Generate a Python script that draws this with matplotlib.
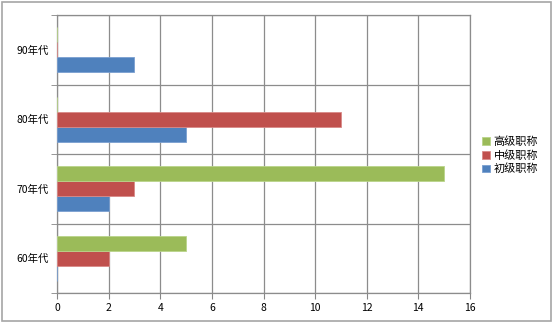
import matplotlib
matplotlib.use("Agg")
import matplotlib.pyplot as plt
from matplotlib.patches import Rectangle
import numpy as np

plt.rcParams['font.family'] = ['Noto Sans CJK SC', 'DejaVu Sans']

categories = ['60年代', '70年代', '80年代', '90年代']
series_names = ['初级职称', '中级职称', '高级职称']
chuji = [0, 2, 5, 3]
zhongji = [2, 3, 11, 0]
gaoji = [5, 15, 0, 0]
colors = ['#4F81BD', '#C0504D', '#9BBB59']
edges = ['#7A9FD0', '#D98A88', '#B9D48A']
xticks = [0, 2, 4, 6, 8, 10, 12, 14, 16]

fig = plt.figure(figsize=(5.54, 3.23), dpi=100)
fig.patches.append(Rectangle((2/554, 2/323), 549/554, 319/323, transform=fig.transFigure,
                             fill=False, edgecolor='#A6A6A6', linewidth=1.2))
ax = fig.add_axes([57/554, 1 - 293/323, 413/554, 278/323])

y = np.arange(len(categories))
h = 0.216
data = [chuji, zhongji, gaoji]
offsets = [-h, 0, h]
handles = []
for vals, off, c, e, name in zip(data, offsets, colors, edges, series_names):
    b = ax.barh(y + off, vals, height=h, color=c, edgecolor=e, linewidth=0.6, label=name, zorder=3)
    handles.append(b)

ax.set_xlim(0, 16)
ax.set_ylim(-0.5, 3.5)
ax.set_xticks(xticks)
ax.set_xticklabels([str(t) for t in xticks], fontsize=7.5)
ax.set_yticks(y)
ax.set_yticklabels(categories, fontsize=7.5)
ax.set_yticks(np.arange(-0.5, 4, 1), minor=True)
ax.tick_params(axis='y', which='major', length=0, pad=6)
ax.tick_params(axis='y', which='minor', length=4, color='#868686', direction='out')
ax.tick_params(axis='x', length=4, color='#868686', direction='out', pad=3)
ax.grid(True, axis='x', color='#8C8C8C', linewidth=0.9, zorder=0)
ax.grid(True, axis='y', which='minor', color='#8C8C8C', linewidth=0.9, zorder=0)
for s in ax.spines.values():
    s.set_color('#8C8C8C')
    s.set_linewidth(0.9)

leg = fig.legend(handles[::-1], series_names[::-1], loc='upper left',
                 bbox_to_anchor=(478/554, 1 - 132/323), frameon=False,
                 fontsize=8, handlelength=0.7, handleheight=0.7,
                 handletextpad=0.3, labelspacing=0.25, borderaxespad=0)

fig.savefig('out.png', dpi=100)
